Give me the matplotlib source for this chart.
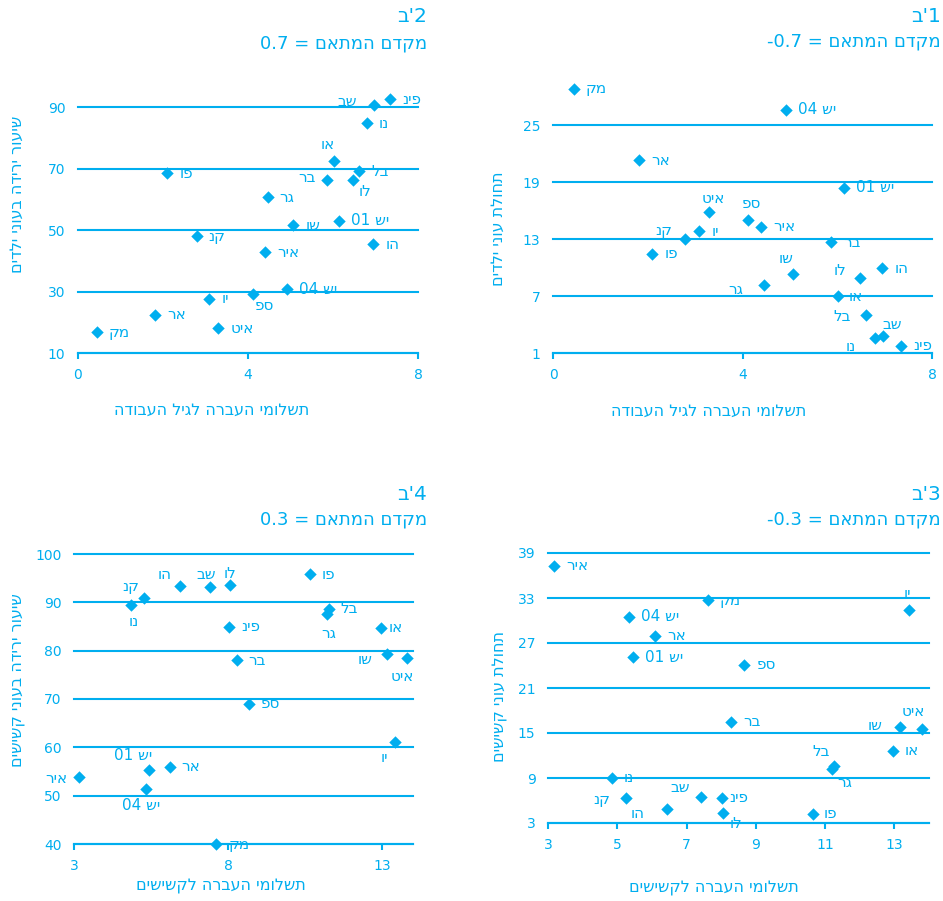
"""
Transfer payments vs. poverty - four scatter panels (children / elderly)
"""

import matplotlib
matplotlib.use('Agg')
import matplotlib.pyplot as plt

# Country codes (logical Hebrew order)
countries = ['מק', 'אר', 'פו', 'קנ', 'יו', 'איט', 'ספ', 'איר', 'גר', 'יש 04',
             'שו', 'בר', 'או', 'יש 01', 'לו', 'בל', 'נו', 'הו', 'שב', 'פינ']

# Transfers to working-age population (% GDP)
work_transfers = [0.44, 1.82, 2.10, 2.79, 3.09, 3.30, 4.12, 4.40, 4.46, 4.92,
                  5.07, 5.87, 6.02, 6.14, 6.48, 6.61, 6.79, 6.95, 6.97, 7.35]
child_poverty = [28.8, 21.3, 11.45, 13.0, 13.8, 15.8, 15.0, 14.3, 8.16, 26.6,
                 9.35, 12.65, 7.0, 18.4, 8.9, 5.0, 2.6, 9.9, 2.8, 1.77]
child_reduction = [16.8, 22.4, 68.4, 47.9, 27.7, 18.1, 29.1, 42.8, 60.6, 30.7,
                   51.5, 66.2, 72.4, 53.0, 66.4, 69.1, 84.8, 45.3, 90.6, 92.5]

# Transfers to the elderly (% GDP)
elder_transfers = [7.62, 6.10, 10.65, 5.26, 13.43, 13.79, 8.67, 3.17, 11.21, 5.34,
                   13.16, 8.28, 12.95, 5.44, 8.05, 11.26, 4.85, 6.43, 7.41, 8.03]
elder_poverty = [32.7, 28.0, 4.24, 6.37, 31.4, 15.5, 24.1, 37.3, 10.16, 30.5,
                 15.76, 16.5, 12.64, 25.1, 4.37, 10.6, 9.04, 4.87, 6.47, 6.37]
elder_reduction = [40.0, 56.0, 95.8, 90.8, 61.1, 78.4, 69.0, 53.9, 87.5, 51.3,
                   79.3, 78.0, 84.7, 55.3, 93.5, 88.7, 89.5, 93.3, 93.1, 85.0]

# Style
BLUE = '#00AEEF'
FONT = 'DejaVu Sans'
W, H = 943, 901
DPI = 100
OUTPUT_FILE = 'out.png'

# Label placement per panel: (dx px, dy px, ha); default is to the right
DEFAULT_OFFSET = (12, 0, 'left')
OFFSETS_B1 = {'איט': (4, 14, 'center'), 'ספ': (3, 17, 'center'),
              'קנ': (-13, 9, 'right'), 'שו': (-7, 15, 'center'),
              'לו': (-14, 7, 'right'), 'גר': (-21, -5, 'right'),
              'בל': (-15, -1, 'right'), 'שב': (9, 11, 'center'),
              'נו': (-19, -9, 'right'), 'או': (10, 0, 'left')}
OFFSETS_B2 = {'שב': (-17, 4, 'right'), 'או': (-6, 17, 'center'),
              'לו': (12, -12, 'center'), 'בר': (-12, 3, 'right'),
              'ספ': (11, -11, 'center')}
OFFSETS_B3 = {'יו': (-2, 16, 'center'), 'שו': (-17, 2, 'right'),
              'איט': (-8, 18, 'center'), 'בל': (-13, 15, 'center'),
              'גר': (12, -13, 'center'), 'קנ': (-16, -2, 'right'),
              'שב': (-21, 9, 'center'), 'פינ': (7, 0, 'left'),
              'הו': (-22, -5, 'right'), 'לו': (13, -11, 'center'),
              'פו': (11, 0, 'left')}
OFFSETS_B4 = {'הו': (-15, 12, 'center'), 'שב': (-4, 13, 'center'),
              'לו': (0, 12, 'center'), 'קנ': (-13, 12, 'center'),
              'נו': (3, -17, 'center'), 'גר': (2, -19, 'center'),
              'או': (8, 0, 'left'), 'שו': (-15, -5, 'right'),
              'איט': (-4, -18, 'center'), 'יו': (-11, -15, 'center'),
              'יש 01': (-16, 15, 'center'), 'איר': (-12, -2, 'right'),
              'יש 04': (-5, -16, 'center')}


def vis(s):
    """Visual (left-to-right) order for a right-to-left string"""
    words = s.split(' ')[::-1]
    out = []
    for w in words:
        if any('\u0590' <= c <= '\u05ff' for c in w):
            w = w[::-1]
        out.append(w)
    return ' '.join(out)


def px(v):
    return v * 72.0 / DPI


def draw_panel(fig, rect, xs, ys, xlim, ylim, xticks, yticks, offsets,
               tag, coef, xlabel, ylabel, xlabel_pos, ylabel_pos, title_pos):
    l, t, r, b = rect
    ax = fig.add_axes([l / W, 1 - b / H, (r - l) / W, (b - t) / H])
    ax.set_xlim(*xlim)
    ax.set_ylim(*ylim)

    ax.scatter(xs, ys, marker='D', s=40, color=BLUE, linewidths=0,
               zorder=3, clip_on=False)
    for name, x, y in zip(countries, xs, ys):
        dx, dy, ha = offsets.get(name, DEFAULT_OFFSET)
        ax.annotate(vis(name), (x, y), xytext=(px(dx), px(dy)),
                    textcoords='offset points', ha=ha, va='center',
                    fontsize=11, color=BLUE, family=FONT, zorder=4)

    # horizontal gridlines, no side spines
    ax.set_xticks(xticks)
    ax.set_yticks(yticks)
    ax.yaxis.grid(True, color=BLUE, linewidth=1.5)
    for gl in ax.get_ygridlines():
        gl.set_clip_on(False)
    ax.set_axisbelow(True)
    for side in ('left', 'right', 'top'):
        ax.spines[side].set_visible(False)
    ax.spines['bottom'].set_color(BLUE)
    ax.spines['bottom'].set_linewidth(1.5)
    ax.tick_params(axis='y', length=0, pad=9, labelsize=10, labelcolor=BLUE)
    ax.tick_params(axis='x', length=4, width=1.5, color=BLUE, direction='out',
                   pad=7, labelsize=10, labelcolor=BLUE)
    for lab in ax.get_xticklabels() + ax.get_yticklabels():
        lab.set_family(FONT)

    # axis titles
    fig.text(xlabel_pos[0] / W, 1 - xlabel_pos[1] / H, vis(xlabel),
             ha='center', va='center', fontsize=11.5, color=BLUE, family=FONT)
    fig.text(ylabel_pos[0] / W, 1 - ylabel_pos[1] / H, vis(ylabel),
             ha='center', va='center', rotation=90, fontsize=11.5,
             color=BLUE, family=FONT)

    # panel tag and correlation coefficient
    fig.text(title_pos[0] / W, 1 - title_pos[1] / H, tag, ha='right',
             va='center', fontsize=14.5, color=BLUE, family=FONT)
    fig.text(title_pos[0] / W, 1 - (title_pos[1] + 26) / H,
             vis('מקדם המתאם = ' + coef), ha='right', va='center',
             fontsize=13, color=BLUE, family=FONT)
    return ax


def create_chart():
    fig = plt.figure(figsize=(W / DPI, H / DPI), dpi=DPI)
    fig.patch.set_facecolor('white')

    work_label = 'תשלומי העברה לגיל העבודה'
    elder_label = 'תשלומי העברה לקשישים'

    # top-left: reduction in child poverty
    draw_panel(fig, (78, 85.5, 418, 353), work_transfers, child_reduction,
               (0, 8), (10, 97), [0, 4, 8], [10, 30, 50, 70, 90], OFFSETS_B2,
               "ב'2", '0.7', work_label, 'שיעור ירידה בעוני ילדים',
               (212, 410), (17, 194), (427, 17))

    # top-right: child poverty rate
    draw_panel(fig, (553, 77.5, 932, 353), work_transfers, child_poverty,
               (0, 8), (1, 30), [0, 4, 8], [1, 7, 13, 19, 25], OFFSETS_B1,
               "ב'1", '-0.7', work_label, 'תחולת עוני ילדים',
               (709, 411), (498, 229), (941, 16))

    # bottom-left: reduction in elderly poverty
    draw_panel(fig, (74, 554, 413, 844), elder_transfers, elder_reduction,
               (3, 14), (40, 100), [3, 8, 13], [40, 50, 60, 70, 80, 90, 100],
               OFFSETS_B4, "ב'4", '0.3', elder_label,
               'שיעור ירידה בעוני קשישים',
               (221, 887), (18, 680), (427, 494))

    # bottom-right: elderly poverty rate
    draw_panel(fig, (548, 553, 929, 823), elder_transfers, elder_poverty,
               (3, 14), (3, 39), [3, 5, 7, 9, 11, 13],
               [3, 9, 15, 21, 27, 33, 39], OFFSETS_B3, "ב'3", '-0.3',
               elder_label, 'תחולת עוני קשישים',
               (714, 888), (500, 697), (941, 494))

    fig.savefig(OUTPUT_FILE, dpi=DPI, facecolor='white')


if __name__ == "__main__":
    create_chart()
